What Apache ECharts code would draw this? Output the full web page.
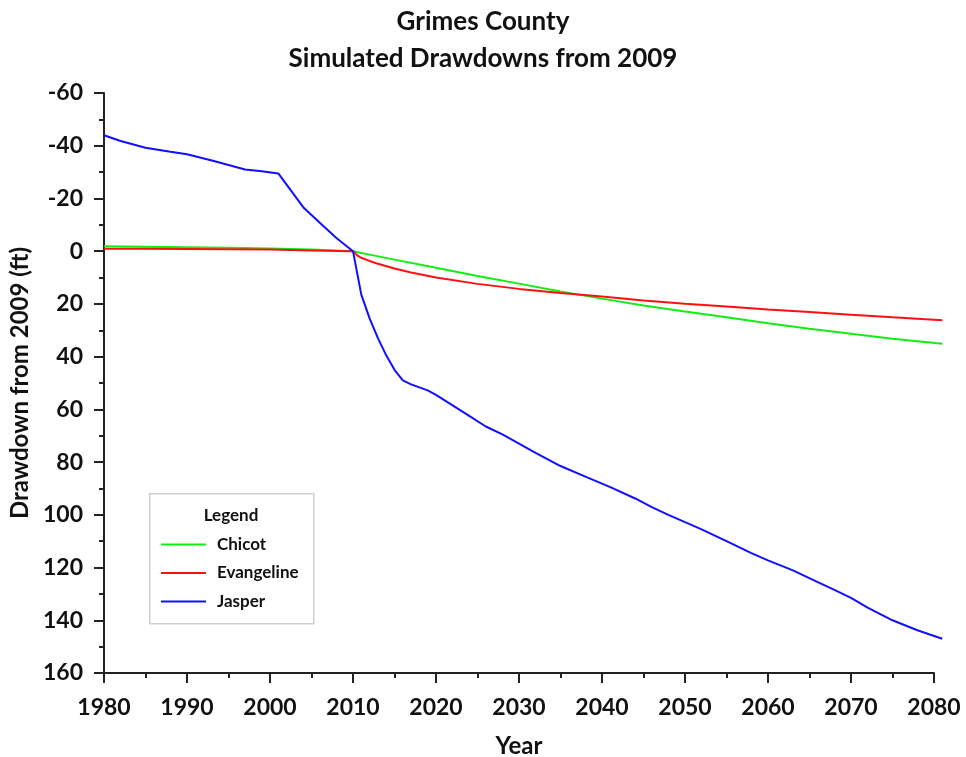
<!DOCTYPE html>
<html><head><meta charset="utf-8">
<script src="https://cdn.jsdelivr.net/npm/echarts@6/dist/echarts.min.js"></script>
<style>html,body{margin:0;padding:0;background:#fff}#c{width:966px;height:757px}</style>
</head><body><div id="c"></div>
<script>
var titleLines = ['Grimes County', 'Simulated Drawdowns from 2009'];
var seriesNames = ['Chicot', 'Evangeline', 'Jasper'];
var xTicks = [1980, 2080, 10];
var dataXMax = 2081;
var yTicks = [-60, 160, 20];

var chicotYears = [1980,1985,1990,1995,2000,2005,2010,2012,2015,2020,2025,2030,2035,2040,2045,2050,2055,2060,2065,2070,2075,2081];
var chicotValues = [-1.9,-1.7,-1.5,-1.3,-1.0,-0.6,0,1.3,3.2,6.3,9.4,12.3,15.3,18.0,20.6,22.9,25.1,27.3,29.4,31.3,33.2,35.1];

var evangelineYears = [1980,1985,1990,1995,2000,2005,2010,2010.5,2011,2012,2013,2015,2017,2020,2025,2030,2035,2040,2045,2050,2055,2060,2065,2070,2075,2081];
var evangelineValues = [-0.9,-0.9,-0.8,-0.7,-0.6,-0.3,0,1.6,2.5,3.7,4.8,6.6,8.1,10.0,12.4,14.3,15.9,17.2,18.7,19.9,21.0,22.1,23.1,24.1,25.1,26.2];

var jasperYears = [1980,1982,1985,1988,1990,1993,1995,1997,1999,2001,2003,2004,2006,2008,2010,2011,2012,2013,2014,2015,2016,2017,2019,2020,2022,2024,2026,2028,2030,2032,2035,2038,2041,2044,2046,2048,2050,2052,2055,2058,2060,2063,2066,2068,2070,2072,2075,2078,2081];
var jasperValues = [-44,-41.8,-39.2,-37.7,-36.8,-34.4,-32.7,-31,-30.3,-29.5,-21,-16.7,-10.8,-5,0,16.5,25.5,33,39.5,45,49,50.5,52.8,54.5,58.5,62.5,66.5,69.5,73,76.5,81.5,85.5,89.5,93.8,97.1,100,102.8,105.5,110,114.5,117.3,121.1,125.5,128.5,131.5,135.2,140,143.8,147];

function pairs(xs, ys){ return xs.map(function(x,i){ return [x, ys[i]]; }); }

var colors = ['#12ee12', '#ff1010', '#1010ff'];
var FONT = 'Lato';
var chart = echarts.init(document.getElementById('c'), null, {renderer:'canvas'});

var gridLeft = 104, gridRight = 32, gridTop = 93, gridBottom = 84;
var plotW = 966 - gridLeft - gridRight;
var pxPerYear = plotW / (xTicks[1] - xTicks[0]);
var dataRight = gridRight - (dataXMax - xTicks[1]) * pxPerYear;

var axisCommon = {
  axisLine:{show:true, onZero:false, lineStyle:{color:'#222', width:2}},
  axisTick:{show:true, length:10, lineStyle:{color:'#222', width:2}},
  minorTick:{show:true, splitNumber:2, length:5, lineStyle:{color:'#222', width:2}},
  splitLine:{show:false},
  axisLabel:{color:'#111', fontSize:23, fontWeight:'bold', fontFamily:FONT, margin:21},
  nameTextStyle:{color:'#111', fontSize:24, fontWeight:'bold', fontFamily:FONT}
};
var hiddenAxis = {show:false, splitLine:{show:false}, axisLine:{show:false}, axisTick:{show:false}, axisLabel:{show:false}};
var option = {
  backgroundColor:'#fff',
  animation:false,
  title:{text:titleLines.join('\n'), left:'center', top:-2,
    textStyle:{fontSize:26, fontWeight:'bold', fontFamily:FONT, color:'#111', lineHeight:37}},
  grid:[
    {left:gridLeft, right:gridRight, top:gridTop, bottom:gridBottom, containLabel:false, outerBoundsMode:'none'},
    {left:gridLeft, right:dataRight, top:gridTop, bottom:gridBottom, containLabel:false, outerBoundsMode:'none'}
  ],
  xAxis:[
    Object.assign({type:'value', gridIndex:0, min:xTicks[0], max:xTicks[1], interval:xTicks[2],
      name:'Year', nameLocation:'middle', nameGap:61}, axisCommon,
      {axisLabel:Object.assign({}, axisCommon.axisLabel, {margin:23, formatter:function(v){return String(v);}})}),
    Object.assign({type:'value', gridIndex:1, min:xTicks[0], max:dataXMax}, hiddenAxis)
  ],
  yAxis:[
    Object.assign({type:'value', gridIndex:0, inverse:true, min:yTicks[0], max:yTicks[1], interval:yTicks[2],
      name:'Drawdown from 2009 (ft)', nameLocation:'middle', nameGap:70}, axisCommon),
    Object.assign({type:'value', gridIndex:1, inverse:true, min:yTicks[0], max:yTicks[1]}, hiddenAxis)
  ],
  graphic:[
    {type:'rect', left:149, top:493, shape:{width:164, height:130}, style:{fill:'#fff', stroke:'#cfcfcf', lineWidth:1.5}, z:100},
    {type:'text', x:231, y:516, style:{text:'Legend', fontSize:17, fontWeight:'bold', fontFamily:FONT, fill:'#111', textAlign:'center', textVerticalAlign:'middle'}, z:101}
  ],
  legend:{orient:'vertical', left:156, top:531, itemWidth:45, itemHeight:2, itemGap:11.5, icon:'rect',
    textStyle:{fontSize:17, fontWeight:'bold', fontFamily:FONT, color:'#111', padding:[0,0,0,6]}, z:102,
    data:seriesNames},
  series:[
    {name:seriesNames[0], type:'line', xAxisIndex:1, yAxisIndex:1, data:pairs(chicotYears, chicotValues), showSymbol:false, lineStyle:{color:colors[0], width:2}, itemStyle:{color:colors[0]}},
    {name:seriesNames[1], type:'line', xAxisIndex:1, yAxisIndex:1, data:pairs(evangelineYears, evangelineValues), showSymbol:false, lineStyle:{color:colors[1], width:2}, itemStyle:{color:colors[1]}},
    {name:seriesNames[2], type:'line', xAxisIndex:1, yAxisIndex:1, data:pairs(jasperYears, jasperValues), showSymbol:false, lineStyle:{color:colors[2], width:2}, itemStyle:{color:colors[2]}}
  ]
};
chart.setOption(option);
</script></body></html>
